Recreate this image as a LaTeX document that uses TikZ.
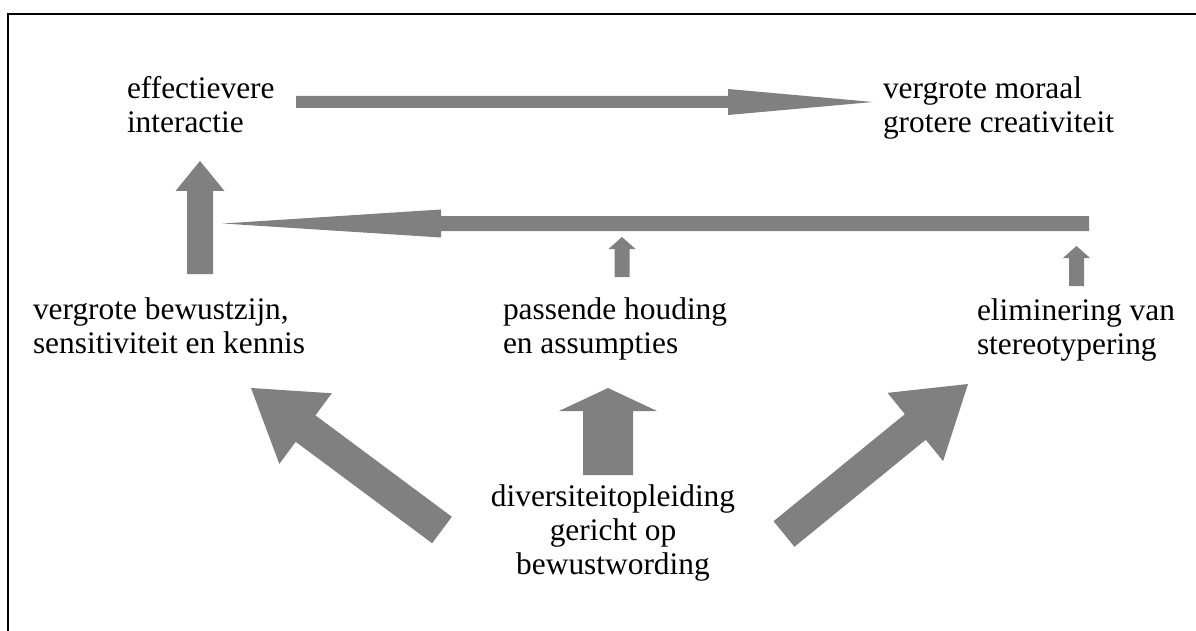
\documentclass[tikz,border=0pt]{standalone}
\usepackage{fontspec}
\setmainfont{Liberation Serif}
\usetikzlibrary{calc}
\definecolor{arrowgray}{HTML}{808080}
\tikzset{
  lbl/.style={inner sep=0pt, outer sep=0pt, font=\fontsize{31.4}{34}\selectfont, align=left, anchor=base west},
  lblc/.style={lbl, align=center, anchor=base},
  arrowfill/.style={fill=arrowgray},
  frameline/.style={line width=2pt, black}
}
% #1 name, #2 tail, #3 tip, #4 half shaft width, #5 head length, #6 half head width
\newcommand\barrow[6]{%
  \coordinate (#1-h) at ($(#3)!#5!(#2)$);
  \fill[arrowfill] ($(#2)!#4!90:(#3)$) -- ($(#1-h)!#4!90:(#3)$) -- ($(#1-h)!#6!90:(#3)$) -- (#3)
    -- ($(#1-h)!#6!-90:(#3)$) -- ($(#1-h)!#4!-90:(#3)$) -- ($(#2)!#4!-90:(#3)$) -- cycle;
}
\begin{document}
\begin{tikzpicture}[x=1pt,y=-1pt]
\useasboundingbox (0,0) rectangle (1196,631);
\fill[white] (0,0) rectangle (1196,631);
\draw[frameline] (8,631) -- (8,14) -- (1196,14);

% labels (anchor = baseline of last line)
\node[lbl] (eff) at (127,133) {effectievere\\interactie};
\node[lbl] (mor) at (883,133) {vergrote moraal\\grotere creativiteit};
\node[lbl] (bew) at (33,353) {vergrote bewustzijn,\\sensitiviteit en kennis};
\node[lbl] (pas) at (503,353) {passende houding\\en assumpties};
\node[lbl] (eli) at (977,354) {eliminering van\\stereotypering};
\node[lblc] (div) at (613,574) {diversiteitopleiding\\gericht op\\bewustwording};

% arrow end points
\coordinate (t1) at (296,102);    \coordinate (p1) at (873,102);
\coordinate (t2) at (1089,223.5); \coordinate (p2) at (223,223.5);
\coordinate (t3) at (200,274);    \coordinate (p3) at (200,161);
\coordinate (t4) at (622,277);    \coordinate (p4) at (622,237);
\coordinate (t5) at (1076.5,286); \coordinate (p5) at (1076.5,246);
\coordinate (t6) at (608,475);    \coordinate (p6) at (608,388);
\coordinate (t7) at (442,530);    \coordinate (p7) at (251,388);
\coordinate (t8) at (784,534);    \coordinate (p8) at (968,384);

\barrow{a1}{t1}{p1}{6pt}{145pt}{13pt}
\barrow{a2}{t2}{p2}{7.5pt}{218pt}{14pt}
\barrow{a3}{t3}{p3}{13pt}{30pt}{24.5pt}
\barrow{a4}{t4}{p4}{7.5pt}{12pt}{13.5pt}
\barrow{a5}{t5}{p5}{7.5pt}{12pt}{13.5pt}
\barrow{a6}{t6}{p6}{25pt}{23pt}{49pt}
\barrow{a7}{t7}{p7}{16.5pt}{68pt}{44pt}
\barrow{a8}{t8}{p8}{16.5pt}{68pt}{44pt}
\end{tikzpicture}
\end{document}
